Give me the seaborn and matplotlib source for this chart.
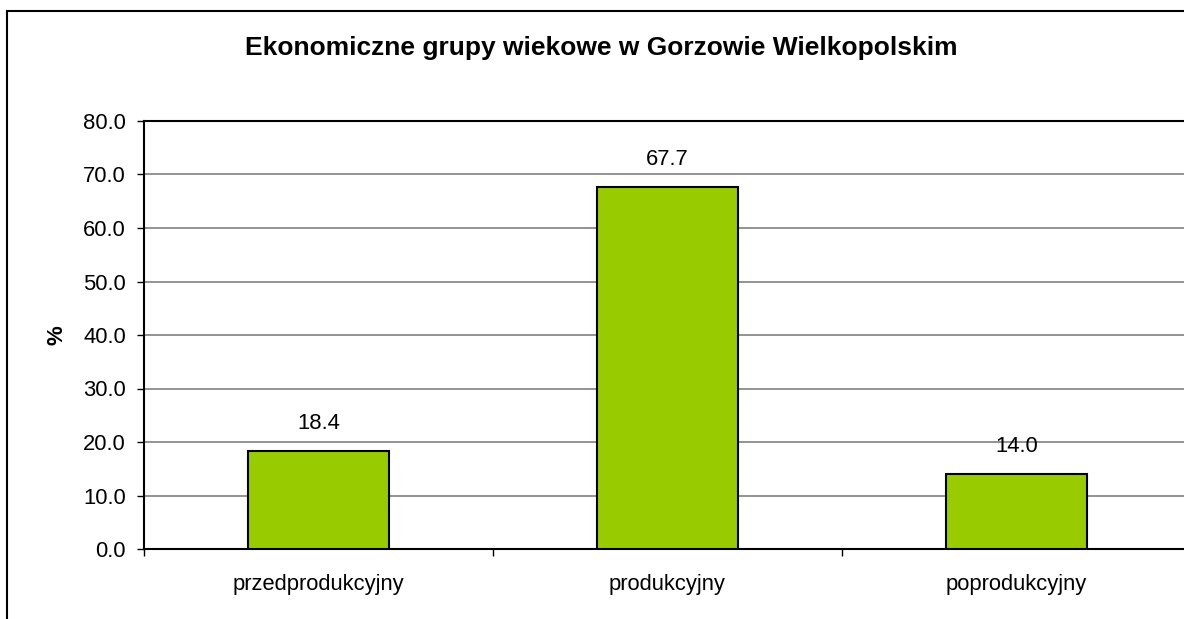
import matplotlib
matplotlib.use("Agg")
import matplotlib.pyplot as plt
import seaborn as sns
import pandas as pd
from matplotlib.patches import Rectangle
from matplotlib.ticker import MultipleLocator, FixedLocator

categories = ["przedprodukcyjny", "produkcyjny", "poprodukcyjny"]
values = [18.4, 67.7, 14.0]
title = "Ekonomiczne grupy wiekowe w Gorzowie Wielkopolskim"
ylabel = "%"

sns.set_style("white")
plt.rcParams["font.family"] = ["Liberation Sans", "DejaVu Sans"]
plt.rcParams["text.color"] = "black"
plt.rcParams["xtick.color"] = "black"
plt.rcParams["ytick.color"] = "black"
plt.rcParams["xtick.labelcolor"] = "black"
plt.rcParams["ytick.labelcolor"] = "black"

W, H = 1184, 619
fig = plt.figure(figsize=(W / 100, H / 100), dpi=100)
ax = fig.add_axes([144 / W, 1 - 549 / H, (1191 - 144) / W, (549 - 121) / H])

df = pd.DataFrame({"cat": categories, "val": values})
sns.barplot(data=df, x="cat", y="val", color="#99CC00", saturation=1,
            width=0.405, edgecolor="black", linewidth=1.5, ax=ax, zorder=3)

ax.set_xlim(-0.5, 2.5)
ax.set_ylim(0, 80)
ax.yaxis.set_major_locator(MultipleLocator(10))
ax.set_yticklabels([f"{v:.1f}" for v in ax.get_yticks()])
ax.grid(axis="y", color="#808080", linewidth=1.2, zorder=0)
ax.set_axisbelow(True)

ax.xaxis.set_minor_locator(FixedLocator([-0.5, 0.5, 1.5, 2.5]))
ax.tick_params(axis="x", which="major", length=0, pad=18, labelsize=15.8)
ax.tick_params(axis="x", which="minor", length=5, width=1, color="black", direction="out", bottom=True)
ax.tick_params(axis="y", length=5, width=1, color="black", direction="out", left=True, pad=8, labelsize=15.8)

for s in ["left", "bottom", "top"]:
    ax.spines[s].set_color("black")
    ax.spines[s].set_linewidth(1.5)
ax.spines["right"].set_visible(False)
ax.set_xlabel("")
ax.set_ylabel("")

for i, v in enumerate(values):
    ax.annotate(f"{v:.1f}", (i, v), xytext=(0, 12), textcoords="offset points",
                ha="center", va="bottom", fontsize=15.8, color="black")

fig.text(601.5 / W, 1 - 48 / H, title, ha="center", va="center", fontsize=19, fontweight="bold", color="black")
fig.text(57 / W, 1 - 335 / H, ylabel, ha="center", va="center", fontsize=16, fontweight="bold", rotation=90, color="black")

fig.patches.append(Rectangle((7 / W, -0.1), 1.2, 1 - 11 / H + 0.1, transform=fig.transFigure,
                             fill=False, edgecolor="black", linewidth=1.5, zorder=10))

fig.savefig("out.png", dpi=100)
